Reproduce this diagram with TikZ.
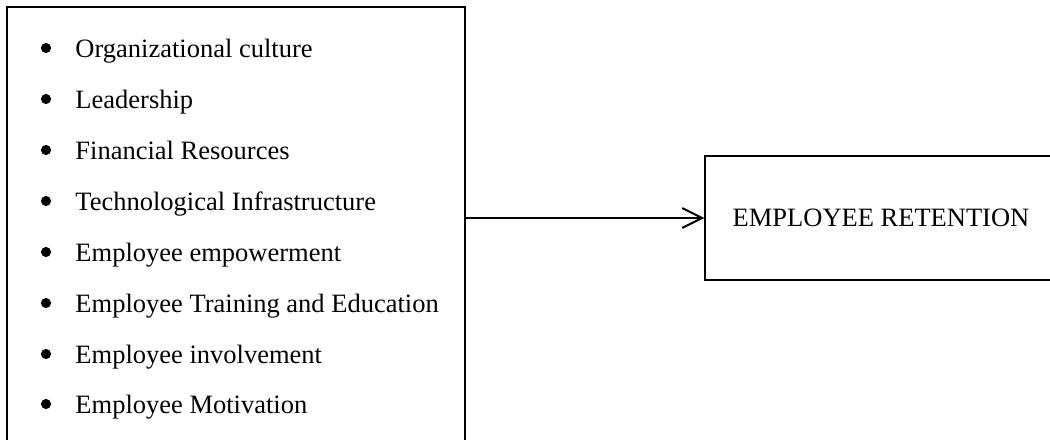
\documentclass[tikz,border=0pt]{standalone}
\usepackage{fontspec}
\setmainfont{Liberation Serif}
\usetikzlibrary{arrows.meta}

\begin{document}
\begin{tikzpicture}[x=0.4528pt, y=-0.4528pt, every node/.style={font=\fontsize{12}{14}\selectfont}]
                \clip (0,0) rectangle (1050,439);

                % Boxes
                \node[draw, rectangle, line width=0.6pt, inner sep=0pt, minimum width=207.4pt, minimum height=211pt] (factors) at (236, 240) {};
                \node[draw, rectangle, line width=0.6pt, inner sep=0pt, minimum width=159.4pt, minimum height=56.1pt] (retention) at (881, 218) {EMPLOYEE RETENTION};

                % Factors
                \node[anchor=base west, inner sep=0pt] (item1) at (75, 57) {Organizational culture};
                \node[anchor=base west, inner sep=0pt] (item2) at (75, 108) {Leadership};
                \node[anchor=base west, inner sep=0pt] (item3) at (75, 159) {Financial Resources};
                \node[anchor=base west, inner sep=0pt] (item4) at (75, 210) {Technological Infrastructure};
                \node[anchor=base west, inner sep=0pt] (item5) at (75, 261) {Employee empowerment};
                \node[anchor=base west, inner sep=0pt] (item6) at (75, 312) {Employee Training and Education};
                \node[anchor=base west, inner sep=0pt] (item7) at (75, 363) {Employee involvement};
                \node[anchor=base west, inner sep=0pt] (item8) at (75, 413) {Employee Motivation};

                % Bullets
                \fill (46, 48) circle (2.3pt);
                \fill (46, 99) circle (2.3pt);
                \fill (46, 150) circle (2.3pt);
                \fill (46, 201) circle (2.3pt);
                \fill (46, 252) circle (2.3pt);
                \fill (46, 303) circle (2.3pt);
                \fill (46, 354) circle (2.3pt);
                \fill (46, 404) circle (2.3pt);

                % Connection
                \draw[-{Straight Barb[length=9pt, width=9pt]}, line width=0.9pt] (factors.east |- retention.west) -- (retention.west);
            \end{tikzpicture}
\end{document}
